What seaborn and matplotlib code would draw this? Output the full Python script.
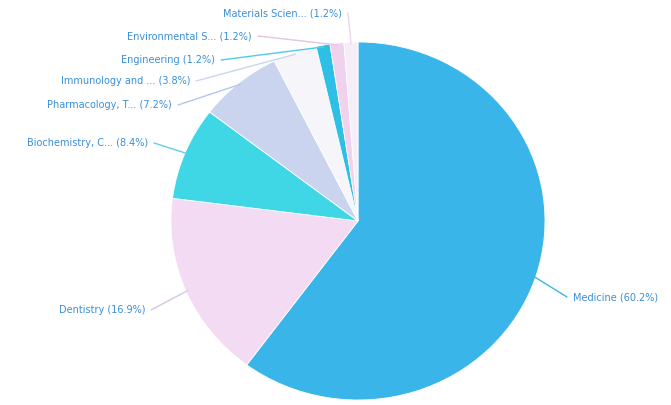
import numpy as np
import matplotlib
matplotlib.use("Agg")
import matplotlib.pyplot as plt
import seaborn as sns

labels = ["Medicine", "Dentistry", "Biochemistry, C...", "Pharmacology, T...",
          "Immunology and ...", "Engineering", "Environmental S...", "Materials Scien..."]
shares = [60.2, 16.9, 8.4, 7.2, 3.8, 1.2, 1.2, 1.2]
colors = ["#3ab5ea", "#f3dbf3", "#3fd6e6", "#cbd4ee", "#f5f5fa", "#2dbfe6", "#f1d2ee", "#f6eef6"]
line_colors = ["#3ab5ea", "#d9c2e6", "#5cd0e6", "#b5c6ea", "#c9d7ee", "#4fcbe9", "#e3c3e6", "#e9d9ee"]

# label anchor points in pixels (text end), layout only
label_px = [(573, 297), (145, 310), (148, 143), (172, 105), (190, 81), (215, 60), (252, 36), (342, 13)]

W, H = 671, 405
cx, cy, rx, ry = 358, 221, 187, 179


def to_data(px, py):
    return (px - cx) / rx, (cy - py) / ry


sns.set_style("white")
fig = plt.figure(figsize=(W / 100, H / 100), dpi=100)
ax = fig.add_axes([0, 0, 1, 1])

wedges, _ = ax.pie(shares, colors=colors, startangle=90, counterclock=False,
                   wedgeprops=dict(edgecolor="white", linewidth=0.6))
ax.set_aspect("auto")
ax.set_xlim(-cx / rx, (W - cx) / rx)
ax.set_ylim(-(H - cy) / ry, cy / ry)
ax.axis("off")

for w, lab, val, (px, py), lc in zip(wedges, labels, shares, label_px, line_colors):
    mid = np.deg2rad((w.theta1 + w.theta2) / 2)
    ex, ey = np.cos(mid) * 0.99, np.sin(mid) * 0.99
    tx, ty = to_data(px, py)
    right = px > cx
    gap = 6 / rx
    lx = tx - gap if right else tx + gap
    ax.plot([ex, lx], [ey, ty], color=lc, lw=1)
    ax.text(tx, ty, f"{lab} ({val}%)", ha="left" if right else "right", va="center",
            fontsize=7, color="#3a8fd8")

fig.savefig("out.png", dpi=100)
